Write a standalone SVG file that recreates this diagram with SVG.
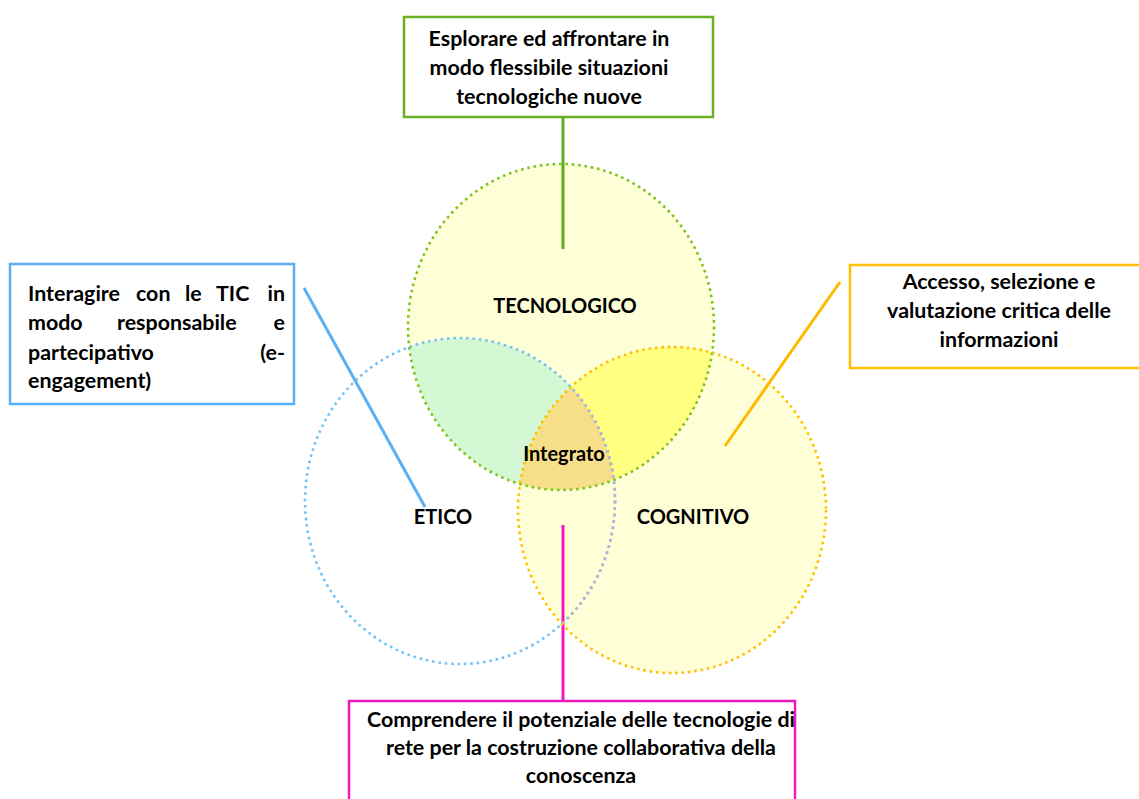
<svg xmlns="http://www.w3.org/2000/svg" width="1139" height="799" viewBox="0 0 1139 799">
<style>
text{font-family:Lato,"Liberation Sans",sans-serif;font-weight:bold;fill:#000;font-size:21.4px}
.c{text-anchor:middle}
.e{text-anchor:end}
.lbl{font-size:20px;text-anchor:middle}
.dot{fill:none;stroke-width:2.6;stroke-dasharray:2.6 3.8}
.box{fill:#fff;stroke-width:2.5}
.conn{fill:none;stroke-width:3}
</style>
<defs>
<clipPath id="clipTec"><ellipse cx="561" cy="327" rx="153" ry="163"/></clipPath>
<clipPath id="clipEt"><ellipse cx="460" cy="501" rx="155" ry="163"/></clipPath>
<clipPath id="clipCog"><ellipse cx="672" cy="510" rx="154" ry="163"/></clipPath>
</defs>
<rect width="1139" height="799" fill="#fff"/>
<g id="venn-fills">
<ellipse cx="561" cy="327" rx="153" ry="163" fill="#FFFFD7"/>
<ellipse cx="672" cy="510" rx="154" ry="163" fill="#FFFFD7"/>
<g clip-path="url(#clipTec)">
<ellipse cx="460" cy="501" rx="155" ry="163" fill="#D3F8D3"/>
<ellipse cx="672" cy="510" rx="154" ry="163" fill="#FFFF80"/>
<g clip-path="url(#clipEt)">
<ellipse cx="672" cy="510" rx="154" ry="163" fill="#F7DE88"/>
</g>
</g>
</g>
<g id="connectors">
<line class="conn" x1="563" y1="117" x2="563" y2="249" stroke="#5FAD1F"/>
<line class="conn" x1="304" y1="288" x2="425" y2="507" stroke="#5AB0F2"/>
<line class="conn" x1="840" y1="282" x2="725" y2="446" stroke="#FFB900"/>
<line class="conn" x1="563" y1="525" x2="563" y2="701" stroke="#F018C0"/>
</g>
<g id="etico">
<ellipse class="dot" cx="460" cy="501" rx="155" ry="163" stroke="#74C3F3"/>
<g clip-path="url(#clipCog)"><ellipse class="dot" cx="460" cy="501" rx="155" ry="163" stroke="#B6B2D2"/></g>
<text class="lbl" x="443" y="524">ETICO</text>
</g>
<g id="tecnologico">
<ellipse class="dot" cx="561" cy="327" rx="153" ry="163" stroke="#7FC41E"/>
<text class="lbl" x="565" y="313">TECNOLOGICO</text>
</g>
<g id="cognitivo">
<ellipse class="dot" cx="672" cy="510" rx="154" ry="163" stroke="#FFC000"/>
<text class="lbl" x="693" y="524">COGNITIVO</text>
</g>
<g id="integrato">
<text class="lbl" x="564" y="461">Integrato</text>
</g>
<g id="box-top">
<rect class="box" x="404" y="17" width="309" height="100" stroke="#6AB023"/>
<text class="c" x="549" y="46">Esplorare ed affrontare in</text>
<text class="c" x="549" y="75">modo flessibile situazioni</text>
<text class="c" x="549" y="104">tecnologiche nuove</text>
</g>
<g id="box-left">
<rect class="box" x="10" y="264" width="284" height="140" stroke="#5BAEF5"/>
<text x="28" y="301">Interagire</text>
<text x="136" y="301">con</text>
<text x="185" y="301">le</text>
<text x="216" y="301">TIC</text>
<text class="e" x="285" y="301">in</text>
<text x="28" y="330">modo</text>
<text x="117" y="330">responsabile</text>
<text class="e" x="285" y="330">e</text>
<text x="28" y="360">partecipativo</text>
<text class="e" x="285" y="360">(e-</text>
<text x="28" y="388">engagement)</text>
</g>
<g id="box-right">
<rect class="box" x="850" y="265" width="292" height="103" stroke="#FFC000"/>
<text class="c" x="999" y="289">Accesso, selezione e</text>
<text class="c" x="999" y="318">valutazione critica delle</text>
<text class="c" x="999" y="347">informazioni</text>
</g>
<g id="box-bottom">
<rect class="box" x="349" y="701" width="446" height="110" stroke="#F018C0"/>
<text class="c" x="581" y="727">Comprendere il potenziale delle tecnologie di</text>
<text class="c" x="581" y="755">rete per la costruzione collaborativa della</text>
<text class="c" x="581" y="783">conoscenza</text>
</g>
</svg>
